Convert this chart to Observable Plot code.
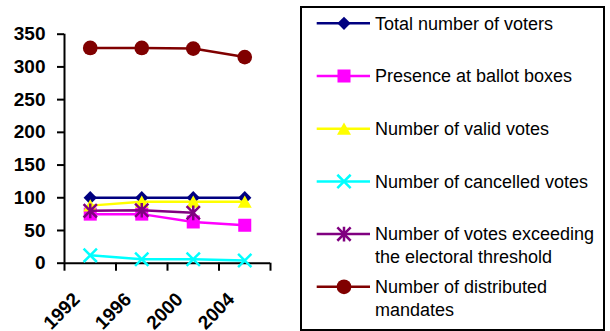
<!DOCTYPE html>
<html><head><meta charset="utf-8">
<script src="https://cdn.jsdelivr.net/npm/d3@7"></script>
<script src="https://cdn.jsdelivr.net/npm/@observablehq/plot@0.6"></script>
<style>
body{margin:0;background:#fff;}
#wrap{position:relative;width:610px;height:331px;font-family:"Liberation Sans",Arial,sans-serif;}
#chart{position:absolute;left:0;top:0;}
#legend{position:absolute;left:300px;top:6px;width:305px;height:325px;box-sizing:border-box;border:2px solid #000;background:#fff;}
</style></head><body><div id="wrap"><div id="chart"></div><div id="legend"></div></div>
<script>
const years = ["1992", "1996", "2000", "2004"];
const totalVoters = [100, 100, 100, 100];
const presence = [75, 75, 63, 58];
const validVotes = [88, 94, 94, 94];
const cancelledVotes = [12, 6, 6, 4];
const exceedingThreshold = [80, 81, 77, null];
const distributedMandates = [329, 329, 328, 315];
const yTicks = [0, 50, 100, 150, 200, 250, 300, 350];
const seriesLabels = [
  ["Total number of voters"],
  ["Presence at ballot boxes"],
  ["Number of valid votes"],
  ["Number of cancelled votes"],
  ["Number of votes exceeding", "the electoral threshold"],
  ["Number of distributed", "mandates"]
];

// custom marker shapes (size -> radius)
const R = s => Math.sqrt(s / Math.PI);
const shapes = {
  diamond: {draw(c, s) {const r = R(s) * 0.95; c.moveTo(0, -r); c.lineTo(r, 0); c.lineTo(0, r); c.lineTo(-r, 0); c.closePath();}},
  square: {draw(c, s) {const r = R(s) * 0.93; c.rect(-r, -r, 2 * r, 2 * r);}},
  triangle: {draw(c, s) {const r = R(s); c.moveTo(0, -r * 0.9); c.lineTo(r, r * 0.85); c.lineTo(-r, r * 0.85); c.closePath();}},
  times: {draw(c, s) {const r = R(s) * 0.95; c.moveTo(-r, -r); c.lineTo(r, r); c.moveTo(r, -r); c.lineTo(-r, r);}},
  asterisk: {draw(c, s) {const r = R(s) * 0.95; c.moveTo(-r, -r); c.lineTo(r, r); c.moveTo(r, -r); c.lineTo(-r, r); c.moveTo(0, -r * 1.1); c.lineTo(0, r * 1.1);}},
  circle: {draw(c, s) {const r = R(s) * 1.05; c.moveTo(r, 0); c.arc(0, 0, r, 0, 2 * Math.PI);}}
};

const series = [
  {values: totalVoters, color: "#000080", shape: shapes.diamond, filled: true},
  {values: presence, color: "#FF00FF", shape: shapes.square, filled: true},
  {values: validVotes, color: "#FFFF00", shape: shapes.triangle, filled: true},
  {values: cancelledVotes, color: "#00FFFF", shape: shapes.times, filled: false},
  {values: exceedingThreshold, color: "#800080", shape: shapes.asterisk, filled: false},
  {values: distributedMandates, color: "#800000", shape: shapes.circle, filled: true}
];

const marks = [];
series.forEach(s => {
  const rows = years.map((y, i) => ({i, v: s.values[i]}));
  marks.push(Plot.line(rows, {x: "i", y: "v", stroke: s.color, strokeWidth: 2.5}));
  marks.push(Plot.dot(rows.filter(d => d.v != null), {
    x: "i", y: "v", r: 7, symbol: s.shape,
    fill: s.filled ? s.color : "none",
    stroke: s.color, strokeWidth: s.filled ? 0 : 2.5
  }));
});

const plot = Plot.plot({
  width: 300,
  height: 331,
  marginLeft: 64,
  marginRight: 30,
  marginTop: 33.7,
  marginBottom: 68.3,
  style: {fontFamily: "Liberation Sans, Arial, sans-serif", background: "transparent", overflow: "visible", color: "#000"},
  x: {type: "linear", domain: [-0.5, 3.5]},
  y: {domain: [0, 350]},
  marks: [
    Plot.axisY({ticks: yTicks, tickSize: 7, tickPadding: 12, fontSize: 19, fontWeight: "bold", strokeWidth: 2, label: null, stroke: "#000"}),
    Plot.axisX({ticks: [-0.5, 0.5, 1.5, 2.5, 3.5], tickSize: 8, tickFormat: () => "", strokeWidth: 2, label: null, stroke: "#000"}),
    Plot.ruleX([-0.5], {y1: 0, y2: 350, stroke: "#000", strokeWidth: 2}),
    Plot.ruleY([0], {stroke: "#000", strokeWidth: 2}),
    Plot.text(years, {x: (d, i) => i, y: () => 0, text: d => d, rotate: -45, textAnchor: "end",
      fontSize: 19, fontWeight: "bold", dx: -13.5, dy: 33, fill: "#000"}),
    ...marks
  ]
});
document.getElementById("chart").appendChild(plot);

// legend
const lg = d3.select("#legend").append("svg").attr("width", 301).attr("height", 321)
  .style("font-family", "Liberation Sans, Arial, sans-serif");
series.forEach((s, k) => {
  const cy = 15.3 + k * 52.7;
  const g = lg.append("g");
  g.append("line").attr("x1", 14.7).attr("x2", 68).attr("y1", cy).attr("y2", cy)
    .attr("stroke", s.color).attr("stroke-width", 2.5);
  g.append("path").attr("transform", `translate(42,${cy})`)
    .attr("d", d3.symbol(s.shape, 49 * Math.PI)())
    .attr("fill", s.filled ? s.color : "none")
    .attr("stroke", s.filled ? "none" : s.color).attr("stroke-width", 2.5);
  seriesLabels[k].forEach((t, j) => {
    g.append("text").attr("x", 73).attr("y", cy + j * 23).attr("dy", "0.35em")
      .attr("font-size", 18).attr("fill", "#000").text(t);
  });
});
</script></body></html>
